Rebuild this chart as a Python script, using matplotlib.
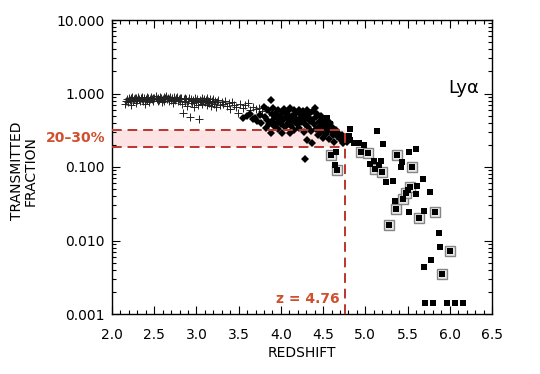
import math
import matplotlib
matplotlib.use("Agg")
import matplotlib.pyplot as plt
from matplotlib.ticker import LogLocator, FixedLocator, MultipleLocator, NullFormatter

# ---- data ----
cross_z = [2.15, 2.16, 2.18, 2.19, 2.20, 2.21, 2.22, 2.23, 2.24, 2.25, 2.26, 2.27, 2.28, 2.29, 2.30,
           2.31, 2.32, 2.33, 2.34, 2.35, 2.36, 2.37, 2.38, 2.39, 2.40, 2.41, 2.42, 2.43, 2.44, 2.45,
           2.46, 2.47, 2.48, 2.49, 2.50, 2.52, 2.53, 2.54, 2.55, 2.56, 2.57, 2.58, 2.59, 2.60, 2.61,
           2.62, 2.63, 2.64, 2.65, 2.66, 2.67, 2.68, 2.69, 2.70, 2.71, 2.72, 2.73, 2.74, 2.75, 2.76,
           2.77, 2.78, 2.79, 2.80, 2.81, 2.82, 2.83, 2.84, 2.85, 2.86, 2.87, 2.88, 2.89, 2.90, 2.91,
           2.92, 2.93, 2.94, 2.95, 2.96, 2.97, 2.98, 2.99, 3.00, 3.01, 3.02, 3.03, 3.04, 3.05, 3.06,
           3.07, 3.08, 3.09, 3.10, 3.11, 3.12, 3.13, 3.14, 3.15, 3.16, 3.17, 3.18, 3.19, 3.20, 3.21,
           3.22, 3.23, 3.24, 3.26, 3.28, 3.30, 3.32, 3.34, 3.36, 3.38, 3.40, 3.42, 3.44, 3.47, 3.49,
           3.52, 3.55, 3.58, 3.61, 3.64, 3.67, 3.70, 3.74, 3.78, 3.82, 3.86, 3.90]
cross_f = [0.72, 0.80, 0.85, 0.76, 0.88, 0.82, 0.70, 0.86, 0.90, 0.78, 0.84, 0.88, 0.74, 0.86, 0.82,
           0.90, 0.85, 0.78, 0.88, 0.83, 0.91, 0.80, 0.86, 0.72, 0.84, 0.89, 0.82, 0.87, 0.77, 0.85,
           0.90, 0.83, 0.88, 0.80, 0.86, 0.92, 0.84, 0.78, 0.88, 0.82, 0.90, 0.86, 0.76, 0.84, 0.89,
           0.80, 0.86, 0.92, 0.83, 0.87, 0.79, 0.85, 0.90, 0.82, 0.87, 0.74, 0.84, 0.89, 0.81, 0.86,
           0.90, 0.78, 0.84, 0.88, 0.80, 0.86, 0.72, 0.54, 0.83, 0.88, 0.76, 0.84, 0.68, 0.80, 0.86,
           0.48, 0.78, 0.84, 0.74, 0.82, 0.66, 0.88, 0.80, 0.76, 0.84, 0.70, 0.45, 0.82, 0.78, 0.86,
           0.72, 0.80, 0.84, 0.76, 0.82, 0.70, 0.86, 0.78, 0.74, 0.83, 0.68, 0.80, 0.76, 0.84, 0.72,
           0.79, 0.65, 0.77, 0.82, 0.70, 0.76, 0.72, 0.78, 0.68, 0.74, 0.62, 0.76, 0.70, 0.66, 0.54,
           0.72, 0.64, 0.70, 0.74, 0.60, 0.66, 0.62, 0.64, 0.58, 0.62, 0.56, 0.52]

diamond_z = [3.55, 3.60, 3.64, 3.67, 3.69, 3.72, 3.75, 3.77, 3.80, 3.81, 3.82, 3.84, 3.85, 3.86, 3.88,
             3.88, 3.89, 3.90, 3.91, 3.92, 3.93, 3.94, 3.95, 3.96, 3.97, 3.98, 3.99, 4.00, 4.01, 4.02,
             4.03, 4.04, 4.05, 4.06, 4.07, 4.08, 4.09, 4.10, 4.11, 4.11, 4.12, 4.13, 4.14, 4.15, 4.16,
             4.17, 4.18, 4.19, 4.20, 4.21, 4.22, 4.23, 4.24, 4.25, 4.26, 4.27, 4.28, 4.29, 4.29, 4.30,
             4.31, 4.31, 4.32, 4.33, 4.34, 4.35, 4.36, 4.37, 4.37, 4.38, 4.39, 4.40, 4.41, 4.42, 4.43,
             4.44, 4.45, 4.46, 4.47, 4.48, 4.49, 4.50, 4.51, 4.52, 4.53, 4.54, 4.55, 4.56, 4.57, 4.58,
             4.60, 4.61, 4.62, 4.63, 4.65, 4.66, 4.68, 4.70, 4.72, 4.74, 4.76, 4.78]
diamond_f = [0.46, 0.50, 0.53, 0.45, 0.47, 0.42, 0.51, 0.40, 0.65, 0.48, 0.34, 0.44, 0.59, 0.38, 0.82,
             0.29, 0.52, 0.42, 0.63, 0.36, 0.48, 0.55, 0.40, 0.33, 0.59, 0.45, 0.50, 0.38, 0.29, 0.56,
             0.43, 0.62, 0.35, 0.48, 0.52, 0.40, 0.58, 0.45, 0.29, 0.63, 0.36, 0.50, 0.42, 0.59, 0.32,
             0.47, 0.55, 0.38, 0.44, 0.60, 0.34, 0.53, 0.41, 0.48, 0.57, 0.30, 0.45, 0.13, 0.39, 0.52,
             0.59, 0.23, 0.35, 0.47, 0.42, 0.55, 0.31, 0.21, 0.44, 0.57, 0.38, 0.63, 0.33, 0.48, 0.53,
             0.27, 0.41, 0.36, 0.50, 0.30, 0.45, 0.25, 0.39, 0.34, 0.44, 0.28, 0.37, 0.32, 0.24, 0.40,
             0.30, 0.35, 0.27, 0.22, 0.32, 0.26, 0.29, 0.24, 0.27, 0.21, 0.25, 0.22]

square_z = [4.55, 4.58, 4.64, 4.65, 4.81, 4.82, 4.82, 4.86, 4.89, 4.92, 4.98, 5.06, 5.10, 5.14, 5.16,
            5.18, 5.21, 5.25, 5.33, 5.35, 5.42, 5.44, 5.51, 5.52, 5.52, 5.60, 5.60, 5.61, 5.68, 5.69,
            5.70, 5.77, 5.78, 5.87, 5.88, 5.71, 5.80, 5.97, 6.06, 6.16]
square_f = [0.46, 0.39, 0.106, 0.16, 0.264, 0.329, 0.233, 0.21, 0.21, 0.21, 0.197, 0.110, 0.122, 0.312, 0.106,
            0.119, 0.203, 0.063, 0.064, 0.0345, 0.101, 0.116, 0.0487, 0.159, 0.0247, 0.174, 0.043, 0.0551, 0.0687, 0.00432,
            0.0252, 0.0461, 0.00543, 0.0125, 0.0082, 0.0014, 0.0014, 0.0014, 0.0014, 0.0014]

boxed_z = [4.59, 4.66, 4.95, 5.03, 5.11, 5.20, 5.28, 5.36, 5.38, 5.45, 5.48, 5.53, 5.55, 5.64, 5.83,
           6.00, 5.91]
boxed_f = [0.146, 0.091, 0.161, 0.154, 0.093, 0.0855, 0.0163, 0.0268, 0.147, 0.0363, 0.0447, 0.053, 0.101, 0.020, 0.0247,
           0.00726, 0.00347]

band_low, band_high = 0.19, 0.32
z_mark = 4.76
ytick_vals = [0.001, 0.01, 0.1, 1.0, 10.0]
ytick_labels = ["0.001", "0.010", "0.100", "1.000", "10.000"]
xtick_vals = [2.0, 2.5, 3.0, 3.5, 4.0, 4.5, 5.0, 5.5, 6.0, 6.5]

# ---- figure ----
RED_TXT = "#d0502e"
RED_LN = "#b8362c"
fig = plt.figure(figsize=(5.4, 3.74), dpi=100)
ax = fig.add_axes([112/540, 1 - 314/374, 380/540, 294/374])
ax.set_yscale("log")
ax.set_xlim(2.0, 6.5)
ax.set_ylim(0.001, 10.0)

ax.fill_between([2.0, z_mark], band_low, band_high, color="#fde3e3", lw=0, zorder=1)

ax.plot(cross_z, cross_f, ls="none", marker="+", ms=6.0, mew=0.7, color="#222222", zorder=3)
ax.plot(diamond_z, diamond_f, ls="none", marker="D", ms=4.0, mew=0, color="black", zorder=3)
ax.plot(boxed_z, boxed_f, ls="none", marker="s", ms=7.6, mfc="#e8e8e8", mec="#858585", mew=1.0, zorder=3)
ax.plot(boxed_z, boxed_f, ls="none", marker="s", ms=4.0, mew=0, color="black", zorder=4)
ax.plot(square_z, square_f, ls="none", marker="s", ms=4.0, mew=0, color="black", zorder=4)

dash = (0, (5, 3))
ax.hlines([band_low, band_high], 2.0, z_mark, colors=RED_LN, lw=1.4, linestyles=[dash], zorder=5)
ax.vlines(z_mark, 0.001, band_high, colors=RED_LN, lw=1.4, linestyles=[dash], zorder=5)

ax.text(-0.018, (0.5 * math.log10(band_low * band_high) + 3) / 4, "20–30%",
        transform=ax.transAxes, ha="right", va="center", color=RED_TXT,
        fontsize=10, fontweight="bold")
ax.text(z_mark - 0.07, 0.0016, "z = 4.76", ha="right", va="center", color=RED_TXT,
        fontsize=10, fontweight="bold")
ax.text(0.966, 0.769, "Lyα", transform=ax.transAxes, ha="right", va="center",
        fontsize=13, color="black")

# ticks
ax.yaxis.set_major_locator(FixedLocator(ytick_vals))
ax.set_yticklabels(ytick_labels)
ax.yaxis.set_minor_locator(LogLocator(base=10, subs=range(2, 10), numticks=20))
ax.yaxis.set_minor_formatter(NullFormatter())
ax.xaxis.set_major_locator(FixedLocator(xtick_vals))
ax.set_xticklabels([f"{v:.1f}" for v in xtick_vals])
ax.xaxis.set_minor_locator(MultipleLocator(0.1))
ax.tick_params(which="both", direction="in", top=True, right=True, width=0.8)
ax.tick_params(which="major", length=5.5, labelsize=10)
ax.tick_params(axis="x", which="major", pad=10)
ax.tick_params(axis="y", which="major", pad=5)
ax.tick_params(which="minor", length=2.8)
for s in ax.spines.values():
    s.set_linewidth(1.0)

fig.text(302/540, 1 - 353/374, "REDSHIFT", ha="center", va="center", fontsize=10)
fig.text(24/540, 1 - 171/374, "TRANSMITTED\nFRACTION", ha="center", va="center",
         rotation=90, fontsize=10, multialignment="center", linespacing=1.0)

fig.savefig("out.png", dpi=100)
